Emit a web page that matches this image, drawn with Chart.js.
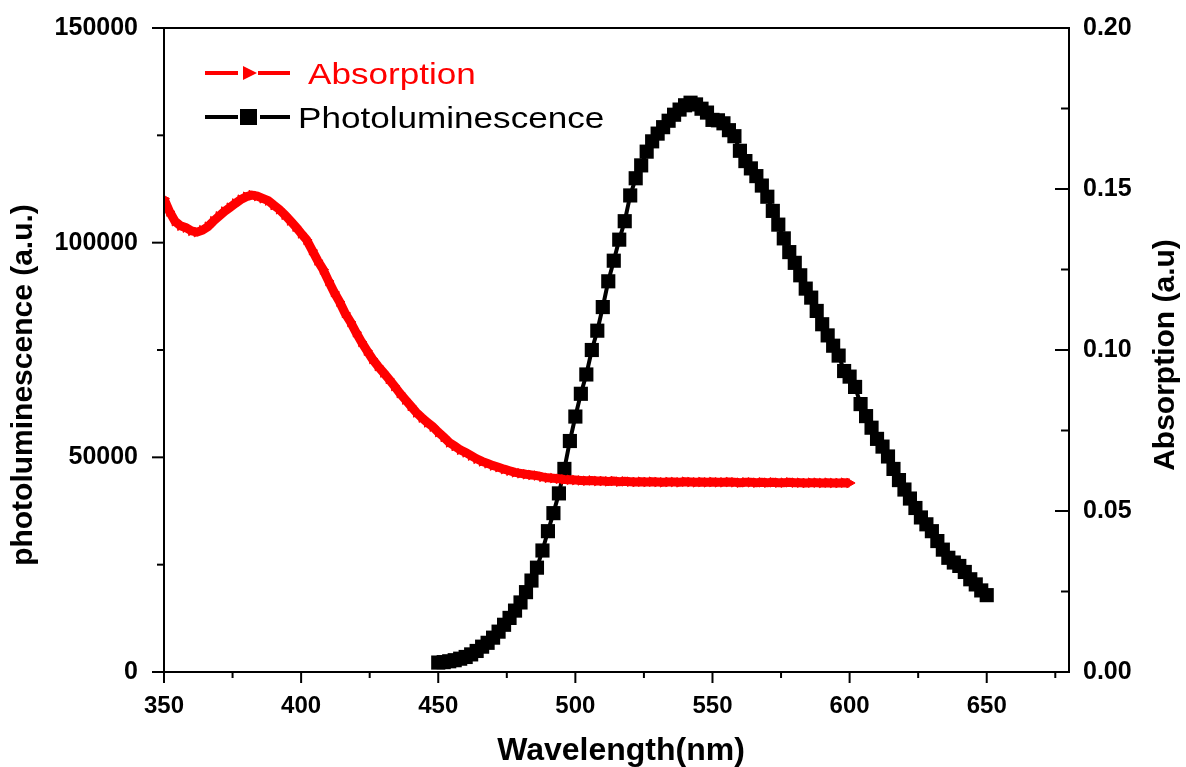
<!DOCTYPE html>
<html>
<head>
<meta charset="utf-8">
<script src="https://cdn.jsdelivr.net/npm/chart.js@4.4.1/dist/chart.umd.min.js"></script>
<style>
  body { margin: 0; background: #fff; }
  #wrap { width: 1186px; height: 767px; }
</style>
</head>
<body>
<div id="wrap"><canvas id="spectra" width="1186" height="767"></canvas></div>
<script>
// absorption spectrum (right axis)
const absWavelength = [
  350, 352, 354, 356, 358, 360, 362, 364, 366, 368,
  370, 372, 374, 376, 378, 380, 382, 384, 386, 388,
  390, 392, 394, 396, 398, 400, 402, 404, 406, 408,
  410, 412, 414, 416, 418, 420, 422, 424, 426, 428,
  430, 432, 434, 436, 438, 440, 442, 444, 446, 448,
  450, 452, 454, 456, 458, 460, 462, 464, 466, 468,
  470, 472, 474, 476, 478, 480, 482, 484, 486, 488,
  490, 492, 494, 496, 498, 500, 502, 504, 506, 508,
  510, 512, 514, 516, 518, 520, 522, 524, 526, 528,
  530, 532, 534, 536, 538, 540, 542, 544, 546, 548,
  550, 552, 554, 556, 558, 560, 562, 564, 566, 568,
  570, 572, 574, 576, 578, 580, 582, 584, 586, 588,
  590, 592, 594, 596, 598, 600
];
const absValues = [
  0.1470, 0.1430, 0.1400, 0.1386, 0.1380, 0.1370, 0.1366, 0.1372, 0.1383, 0.1400,
  0.1415, 0.1430, 0.1442, 0.1455, 0.1467, 0.1476, 0.1481, 0.1478, 0.1471, 0.1464,
  0.1450, 0.1437, 0.1420, 0.1402, 0.1383, 0.1362, 0.1342, 0.1310, 0.1278, 0.1250,
  0.1214, 0.1180, 0.1150, 0.1115, 0.1087, 0.1055, 0.1025, 0.0998, 0.0972, 0.0950,
  0.0930, 0.0910, 0.0888, 0.0866, 0.0846, 0.0826, 0.0806, 0.0790, 0.0775, 0.0762,
  0.0745, 0.0730, 0.0713, 0.0702, 0.0690, 0.0682, 0.0672, 0.0662, 0.0654, 0.0648,
  0.0641, 0.0636, 0.0630, 0.0625, 0.0620, 0.0617, 0.0614, 0.0612, 0.0610, 0.0606,
  0.0603, 0.0602, 0.0600, 0.0598, 0.0597, 0.0596, 0.0595, 0.0594, 0.0595, 0.0593,
  0.0593, 0.0592, 0.0593, 0.0591, 0.0592, 0.0591, 0.0590, 0.0591, 0.0590, 0.0591,
  0.0590, 0.0589, 0.0590, 0.0590, 0.0589, 0.0591, 0.0590, 0.0589, 0.0590, 0.0589,
  0.0590, 0.0589, 0.0589, 0.0590, 0.0589, 0.0588, 0.0589, 0.0589, 0.0588, 0.0589,
  0.0588, 0.0589, 0.0588, 0.0588, 0.0589, 0.0588, 0.0588, 0.0587, 0.0588, 0.0588,
  0.0587, 0.0588, 0.0587, 0.0587, 0.0588, 0.0587
];

// photoluminescence spectrum (left axis)
const plWavelength = [
  450, 452, 454, 456, 458, 460, 462, 464, 466, 468,
  470, 472, 474, 476, 478, 480, 482, 484, 486, 488,
  490, 492, 494, 496, 498, 500, 502, 504, 506, 508,
  510, 512, 514, 516, 518, 520, 522, 524, 526, 528,
  530, 532, 534, 536, 538, 540, 542, 544, 546, 548,
  550, 552, 554, 556, 558, 560, 562, 564, 566, 568,
  570, 572, 574, 576, 578, 580, 582, 584, 586, 588,
  590, 592, 594, 596, 598, 600, 602, 604, 606, 608,
  610, 612, 614, 616, 618, 620, 622, 624, 626, 628,
  630, 632, 634, 636, 638, 640, 642, 644, 646, 648,
  650
];
const plValues = [
  2200, 2300, 2500, 2750, 3100, 3500, 4100, 4900, 5900, 6800,
  8000, 9400, 11000, 12600, 14300, 16200, 18600, 21300, 24300, 28300,
  32800, 37000, 41600, 47300, 53800, 59500, 64800, 69300, 75000, 79500,
  85000, 91000, 95800, 100700, 105000, 111000, 115000, 118000, 121200, 123600,
  125400, 126900, 128400, 129800, 131000, 132000, 132600, 132200, 131200, 130300,
  128600, 128500, 127800, 126200, 124800, 121400, 119000, 117300, 115500, 113300,
  110700, 107400, 104200, 101000, 97800, 95300, 92400, 89300, 87200, 84100,
  81000, 78400, 76000, 73700, 70100, 68800, 66400, 62400, 59600, 56900,
  54300, 52500, 50200, 47300, 44700, 42500, 40400, 38200, 36000, 34400,
  32800, 30500, 28500, 26600, 25500, 24700, 23300, 21600, 20400, 19000,
  17900
];

const xTicks = [350, 400, 450, 500, 550, 600, 650];
const xMinorTicks = [375, 425, 475, 525, 575, 625, 675];
const plTicks = [0, 50000, 100000, 150000];
const plMinorTicks = [25000, 75000, 125000];
const absTicks = [0, 0.05, 0.10, 0.15, 0.20];
const absMinorTicks = [0.025, 0.075, 0.125, 0.175];

Chart.defaults.font.family = '"Liberation Sans", Arial, sans-serif';
Chart.defaults.color = '#000';

function seg(ctx, x1, y1, x2, y2) {
  ctx.beginPath();
  ctx.moveTo(x1, y1);
  ctx.lineTo(x2, y2);
  ctx.stroke();
}

// box, tick marks, axis titles and the legend
const frame = {
  id: 'frame',
  afterDraw(chart) {
    const { ctx, chartArea: a, scales } = chart;
    ctx.save();
    ctx.strokeStyle = '#000';
    ctx.lineWidth = 2;
    ctx.strokeRect(a.left, a.top, a.right - a.left, a.bottom - a.top);

    xTicks.forEach(v => { const p = scales.x.getPixelForValue(v); seg(ctx, p, a.bottom, p, a.bottom + 11); });
    xMinorTicks.forEach(v => { const p = scales.x.getPixelForValue(v); seg(ctx, p, a.bottom, p, a.bottom + 6); });
    plTicks.forEach(v => { const p = scales.y.getPixelForValue(v); seg(ctx, a.left - 12, p, a.left, p); });
    plMinorTicks.forEach(v => { const p = scales.y.getPixelForValue(v); seg(ctx, a.left - 7, p, a.left, p); });
    absTicks.forEach(v => { const p = scales.y1.getPixelForValue(v); seg(ctx, a.right - 14, p, a.right, p); });
    absMinorTicks.forEach(v => { const p = scales.y1.getPixelForValue(v); seg(ctx, a.right - 8, p, a.right, p); });

    // axis titles
    ctx.fillStyle = '#000';
    ctx.font = 'bold 32px "Liberation Sans", Arial';
    ctx.textAlign = 'center';
    ctx.textBaseline = 'alphabetic';
    ctx.fillText('Wavelength(nm)', 621, 760);

    ctx.font = 'bold 30px "Liberation Sans", Arial';
    ctx.textBaseline = 'middle';
    ctx.save();
    ctx.translate(24, 385);
    ctx.rotate(-Math.PI / 2);
    ctx.fillText('photoluminescence (a.u.)', 0, 0);
    ctx.restore();
    ctx.save();
    ctx.translate(1166, 355);
    ctx.rotate(-Math.PI / 2);
    ctx.fillText('Absorption (a.u)', 0, 0);
    ctx.restore();

    // legend
    ctx.lineWidth = 4;
    ctx.strokeStyle = '#ff0000';
    ctx.fillStyle = '#ff0000';
    seg(ctx, 205, 73, 238, 73);
    seg(ctx, 258, 73, 290, 73);
    ctx.beginPath();
    ctx.moveTo(243, 66);
    ctx.lineTo(257, 73);
    ctx.lineTo(243, 80);
    ctx.closePath();
    ctx.fill();

    ctx.strokeStyle = '#000';
    ctx.fillStyle = '#000';
    seg(ctx, 205, 117, 238, 117);
    seg(ctx, 260, 117, 290, 117);
    ctx.fillRect(240, 109, 17, 16);

    ctx.font = '30px "Liberation Sans", Arial';
    ctx.textAlign = 'left';
    ctx.textBaseline = 'alphabetic';
    ctx.save();
    ctx.translate(308, 84);
    ctx.scale(1.17, 1);
    ctx.fillStyle = '#ff0000';
    ctx.fillText('Absorption', 0, 0);
    ctx.restore();
    ctx.save();
    ctx.translate(298, 128);
    ctx.scale(1.17, 1);
    ctx.fillStyle = '#000';
    ctx.fillText('Photoluminescence', 0, 0);
    ctx.restore();

    ctx.restore();
  }
};

const tickFont = { size: 25, weight: 'bold' };

new Chart(document.getElementById('spectra'), {
  type: 'line',
  data: {
    datasets: [
      {
        label: 'Absorption',
        data: absWavelength.map((w, i) => ({ x: w, y: absValues[i] })),
        yAxisID: 'y1',
        borderColor: '#ff0000',
        backgroundColor: '#ff0000',
        borderWidth: 9,
        pointStyle: 'triangle',
        pointRotation: 90,
        pointRadius: 5.5,
        pointBorderWidth: 1
      },
      {
        label: 'Photoluminescence',
        data: plWavelength.map((w, i) => ({ x: w, y: plValues[i] })),
        yAxisID: 'y',
        borderColor: '#000',
        backgroundColor: '#000',
        borderWidth: 4,
        pointStyle: 'rect',
        pointRadius: 10,
        pointBorderWidth: 0
      }
    ]
  },
  options: {
    responsive: false,
    animation: false,
    layout: { padding: { top: 28, left: 0, right: 0, bottom: 0 } },
    elements: { line: { tension: 0 } },
    plugins: { legend: { display: false }, tooltip: { enabled: false } },
    scales: {
      x: {
        type: 'linear',
        min: 350,
        max: 680,
        afterBuildTicks: s => { s.ticks = xTicks.map(v => ({ value: v })); },
        afterFit: s => { s.height = 95; },
        grid: { display: false, drawTicks: false },
        border: { display: false },
        ticks: { padding: 20, font: { size: 24, weight: 'bold' }, maxRotation: 0, autoSkip: false, callback: v => String(v) }
      },
      y: {
        position: 'left',
        min: 0,
        max: 150000,
        afterBuildTicks: s => { s.ticks = plTicks.map(v => ({ value: v })); },
        afterFit: s => { s.width = 164; },
        // tick marks are drawn by the frame plugin, tickLength only spaces the labels
        grid: { display: false, drawTicks: true, tickLength: 14 },
        border: { display: false },
        ticks: { padding: 12, font: tickFont, callback: v => String(v) }
      },
      y1: {
        position: 'right',
        min: 0,
        max: 0.2,
        afterBuildTicks: s => { s.ticks = absTicks.map(v => ({ value: v })); },
        afterFit: s => { s.width = 117; },
        grid: { display: false, drawTicks: true, tickLength: 4 },
        border: { display: false },
        ticks: { padding: 10, font: tickFont, callback: v => v.toFixed(2) }
      }
    }
  },
  plugins: [frame]
});
</script>
</body>
</html>
